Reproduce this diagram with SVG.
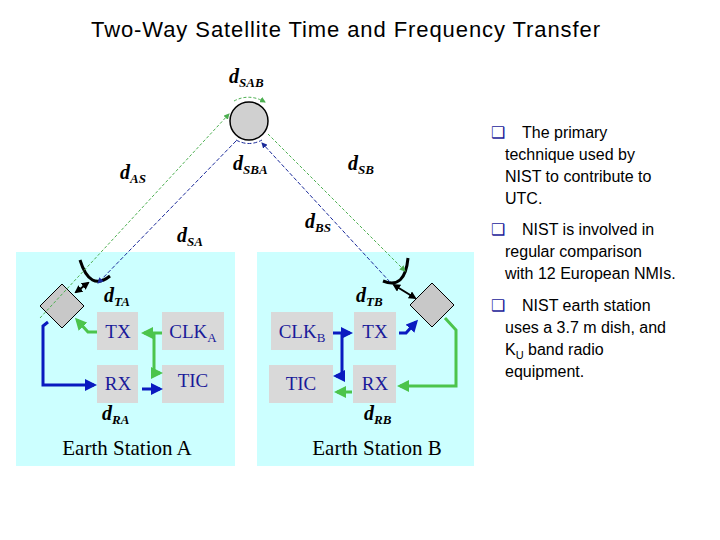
<svg xmlns="http://www.w3.org/2000/svg" width="720" height="540" viewBox="0 0 720 540">
<defs>
<marker id="ag" markerWidth="6" markerHeight="6" refX="5" refY="3" orient="auto"><path d="M0,0L6,3L0,6z" fill="#4caf50"/></marker>
<marker id="ab" markerWidth="6" markerHeight="6" refX="5" refY="3" orient="auto"><path d="M0,0L6,3L0,6z" fill="#1a2a9a"/></marker>
<marker id="aB" markerWidth="4" markerHeight="4" refX="3" refY="2" orient="auto"><path d="M0,0L4,2L0,4z" fill="#0a1ac0"/></marker>
<marker id="aG" markerWidth="4" markerHeight="4" refX="3" refY="2" orient="auto"><path d="M0,0L4,2L0,4z" fill="#4cc44c"/></marker>
<marker id="ak" markerWidth="4" markerHeight="4" refX="3" refY="2" orient="auto"><path d="M0,0L4,2L0,4z" fill="#000"/></marker>
<marker id="ak2" markerWidth="4" markerHeight="4" refX="1" refY="2" orient="auto"><path d="M4,0L0,2L4,4z" fill="#000"/></marker>
</defs>
<style>
.st{fill:#ccffff}
.bx{fill:#d9d9d9}
.bt{font-family:"Liberation Serif",serif;font-size:19px;fill:#1a1a9a}
.d{font-family:"Liberation Serif",serif;font-size:20px;font-weight:bold;font-style:italic}
.d tspan{font-size:13px}
.gd{stroke:#4caf50;stroke-width:1;stroke-dasharray:3,2;fill:none}
.bd{stroke:#1a2a9a;stroke-width:1;stroke-dasharray:4,2;fill:none}
.gl{stroke:#4cc44c;stroke-width:3;fill:none}
.bl{stroke:#0a1ac0;stroke-width:3;fill:none}
.tx{font-family:"Liberation Sans",sans-serif;font-size:16px}
</style>
<text x="91" y="37" font-family="Liberation Sans,sans-serif" font-size="22" textLength="509">Two-Way Satellite Time and Frequency Transfer</text>
<g id="stationA"><rect class="st" x="16" y="252" width="219" height="214"/><text x="127" y="455" text-anchor="middle" font-family="Liberation Serif,serif" font-size="21">Earth Station A</text></g>
<g id="stationB"><rect class="st" x="257" y="252" width="217" height="214"/><text x="377" y="455" text-anchor="middle" font-family="Liberation Serif,serif" font-size="21">Earth Station B</text></g>
<g id="satellite"><circle cx="249" cy="121" r="19" fill="#d0d0d0" stroke="#000" stroke-width="1.5"/></g>
<g id="dishA"><path d="M80,260 Q90,292 110,276" stroke="#000" stroke-width="3" fill="none"/><polygon points="62,284 84,306 62,328 40,306" fill="#c8c8c8" stroke="#000"/></g>
<g id="dishB"><path d="M408,258 Q405,290 383,281" stroke="#000" stroke-width="3" fill="none"/><polygon points="432,283 454,305 432,327 410,305" fill="#c8c8c8" stroke="#000"/></g>
<g id="txA"><rect class="bx" x="97" y="312" width="41" height="38"/><text class="bt" x="118" y="338" text-anchor="middle">TX</text></g>
<g id="clkA"><rect class="bx" x="162" y="312" width="62" height="38"/><text class="bt" x="193" y="338" text-anchor="middle">CLK<tspan font-size="13" dy="4">A</tspan></text></g>
<g id="rxA"><rect class="bx" x="97" y="365" width="41" height="38"/><text class="bt" x="118" y="390" text-anchor="middle">RX</text></g>
<g id="ticA"><rect class="bx" x="162" y="365" width="62" height="38"/><text class="bt" x="193" y="387" text-anchor="middle">TIC</text></g>
<g id="clkB"><rect class="bx" x="271" y="312" width="62" height="38"/><text class="bt" x="302" y="338" text-anchor="middle">CLK<tspan font-size="13" dy="4">B</tspan></text></g>
<g id="txB"><rect class="bx" x="354" y="312" width="42" height="38"/><text class="bt" x="375" y="338" text-anchor="middle">TX</text></g>
<g id="ticB"><rect class="bx" x="269" y="365" width="64" height="38"/><text class="bt" x="301" y="390" text-anchor="middle">TIC</text></g>
<g id="rxB"><rect class="bx" x="353" y="365" width="43" height="38"/><text class="bt" x="375" y="390" text-anchor="middle">RX</text></g>
<g id="connectors">
<line class="gd" x1="40" y1="318" x2="229" y2="114" marker-end="url(#ag)"/>
<line class="bd" x1="236" y1="141" x2="98" y2="283" marker-end="url(#ab)"/>
<line class="bd" x1="390" y1="282" x2="262" y2="143" marker-end="url(#ab)"/>
<line class="gd" x1="268" y1="134" x2="405" y2="271" marker-end="url(#ag)"/>
<path class="gd" d="M234,101 Q249,93 265,102" marker-end="url(#ag)"/>
<path class="bd" d="M236,140 Q249,147 262,140"/>
<line x1="88" y1="283" x2="76" y2="292" stroke="#000" stroke-width="2" marker-end="url(#ak)" marker-start="url(#ak2)"/>
<line x1="394" y1="285" x2="415" y2="298" stroke="#000" stroke-width="2" marker-end="url(#ak)" marker-start="url(#ak2)"/>
<path class="gl" d="M97,332 H88 L77,320" marker-end="url(#aG)"/>
<path class="gl" d="M162,333 H144" marker-end="url(#aG)"/>
<path class="gl" d="M154,333 V373 H160" marker-end="url(#aG)"/>
<path class="bl" d="M48,322 L43,326 V385 H94" marker-end="url(#aB)"/>
<path class="bl" d="M142,389 H160" marker-end="url(#aB)"/>
<path class="bl" d="M333,333 H350" marker-end="url(#aB)"/>
<path class="bl" d="M342,333 V376 H336" marker-end="url(#aB)"/>
<path class="bl" d="M399,333 H406 L416,322" marker-end="url(#aB)"/>
<path class="gl" d="M445,318 L456,330 V386 H400" marker-end="url(#aG)"/>
<path class="gl" d="M352,392 H337" marker-end="url(#aG)"/>
</g>
<text class="d" x="229" y="83">d<tspan dy="4">SAB</tspan></text>
<text class="d" x="120" y="179">d<tspan dy="4">AS</tspan></text>
<text class="d" x="233" y="170">d<tspan dy="4">SBA</tspan></text>
<text class="d" x="348" y="170">d<tspan dy="4">SB</tspan></text>
<text class="d" x="305" y="228">d<tspan dy="4">BS</tspan></text>
<text class="d" x="177" y="242">d<tspan dy="4">SA</tspan></text>
<text class="d" x="104" y="302">d<tspan dy="4">TA</tspan></text>
<text class="d" x="356" y="302">d<tspan dy="4">TB</tspan></text>
<text class="d" x="102" y="420">d<tspan dy="4">RA</tspan></text>
<text class="d" x="364" y="420">d<tspan dy="4">RB</tspan></text>
<g class="tx">
<text x="491" y="138" fill="#1a1a9a">❑</text>
<text x="522" y="138">The primary</text><text x="505" y="160">technique used by</text><text x="505" y="182">NIST to contribute to</text><text x="505" y="204">UTC.</text>
<text x="491" y="235" fill="#1a1a9a">❑</text>
<text x="522" y="235">NIST is involved in</text><text x="505" y="257">regular comparison</text><text x="505" y="279">with 12 European NMIs.</text>
<text x="491" y="311" fill="#1a1a9a">❑</text>
<text x="522" y="311">NIST earth station</text><text x="505" y="333">uses a 3.7 m dish, and</text><text x="505" y="355">K<tspan font-size="11" dy="4">U</tspan><tspan dy="-4"> band radio</tspan></text><text x="505" y="377">equipment.</text>
</g>
</svg>
